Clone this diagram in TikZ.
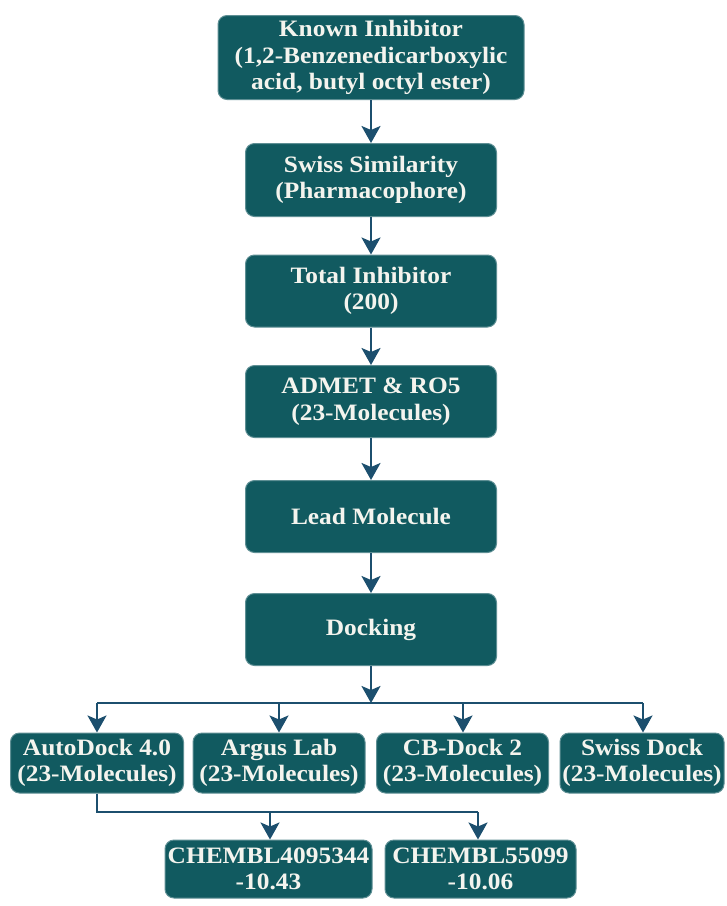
\documentclass[tikz,border=0pt]{standalone}
\usepackage{fontspec}
\setmainfont{Liberation Serif}[FakeStretch=1.08]
\usetikzlibrary{arrows.meta}
\definecolor{boxfill}{HTML}{115A60}
\definecolor{boxedge}{HTML}{5E8F94}
\definecolor{arrcol}{HTML}{1C4F6E}
\definecolor{txtcol}{HTML}{F4F4EE}
\begin{document}
\begin{tikzpicture}[x=1pt,y=-1pt,
  box/.style={draw=boxedge, line width=1pt, fill=boxfill, rounded corners=9pt,
    text=txtcol, align=center, inner sep=0pt,
    font=\bfseries\fontsize{23.5}{26.5}\selectfont},
  conn/.style={draw=arrcol, line width=2.2pt},
  arr/.style={conn, -{Stealth[length=17pt,width=19pt,inset=4pt]}}]
\useasboundingbox (0,0) rectangle (727,906);
\fill[white] (0,0) rectangle (727,906);

\node[box, minimum width=306pt, minimum height=84pt] (K) at (371,57.5)
  {Known Inhibitor\\(1,2-Benzenedicarboxylic\\acid, butyl octyl ester)};
\node[box, minimum width=251pt, minimum height=73pt] (S) at (371,180)
  {Swiss Similarity\\(Pharmacophore)};
\node[box, minimum width=251pt, minimum height=72pt] (T) at (371,291)
  {Total Inhibitor\\(200)};
\node[box, minimum width=251pt, minimum height=72pt] (A) at (371,401.5)
  {ADMET \& RO5\\(23-Molecules)};
\node[box, minimum width=251pt, minimum height=72pt] (L) at (371,516.5)
  {Lead Molecule};
\node[box, minimum width=251pt, minimum height=72pt] (D) at (371,629.5)
  {Docking};

\node[box, minimum width=173pt, minimum height=60pt] (AD) at (97,763)
  {AutoDock 4.0\\(23-Molecules)};
\node[box, minimum width=172pt, minimum height=60pt] (AL) at (279,763)
  {Argus Lab\\(23-Molecules)};
\node[box, minimum width=172pt, minimum height=60pt] (CB) at (462.5,763)
  {CB-Dock 2\\(23-Molecules)};
\node[box, minimum width=164pt, minimum height=60pt] (SD) at (642,763)
  {Swiss Dock\\(23-Molecules)};

\node[box, minimum width=207pt, minimum height=58pt] (C1) at (268.5,869)
  {CHEMBL4095344\\-10.43};
\node[box, minimum width=191pt, minimum height=58pt] (C2) at (480.5,869)
  {CHEMBL55099\\-10.06};

\draw[arr] (K) -- (S);
\draw[arr] (S) -- (T);
\draw[arr] (T) -- (A);
\draw[arr] (A) -- (L);
\draw[arr] (L) -- (D);

\coordinate (hub) at (371,703);
\coordinate (h1) at (97,703);
\coordinate (h2) at (279,703);
\coordinate (h3) at (463,703);
\coordinate (h4) at (643,703);
\draw[arr] (D) -- (hub);
\draw[conn] (h1) -- (h4);
\draw[arr] (h1) -- (h1 |- AD.north);
\draw[arr] (h2) -- (h2 |- AL.north);
\draw[arr] (h3) -- (h3 |- CB.north);
\draw[arr] (h4) -- (h4 |- SD.north);

\coordinate (b0) at (97,812);
\coordinate (b1) at (270,812);
\coordinate (b2) at (478,812);
\draw[conn] (AD.south -| b0) -- (b0) -- (b2);
\draw[arr] (b1) -- (b1 |- C1.north);
\draw[arr] (b2) -- (b2 |- C2.north);
\end{tikzpicture}
\end{document}
